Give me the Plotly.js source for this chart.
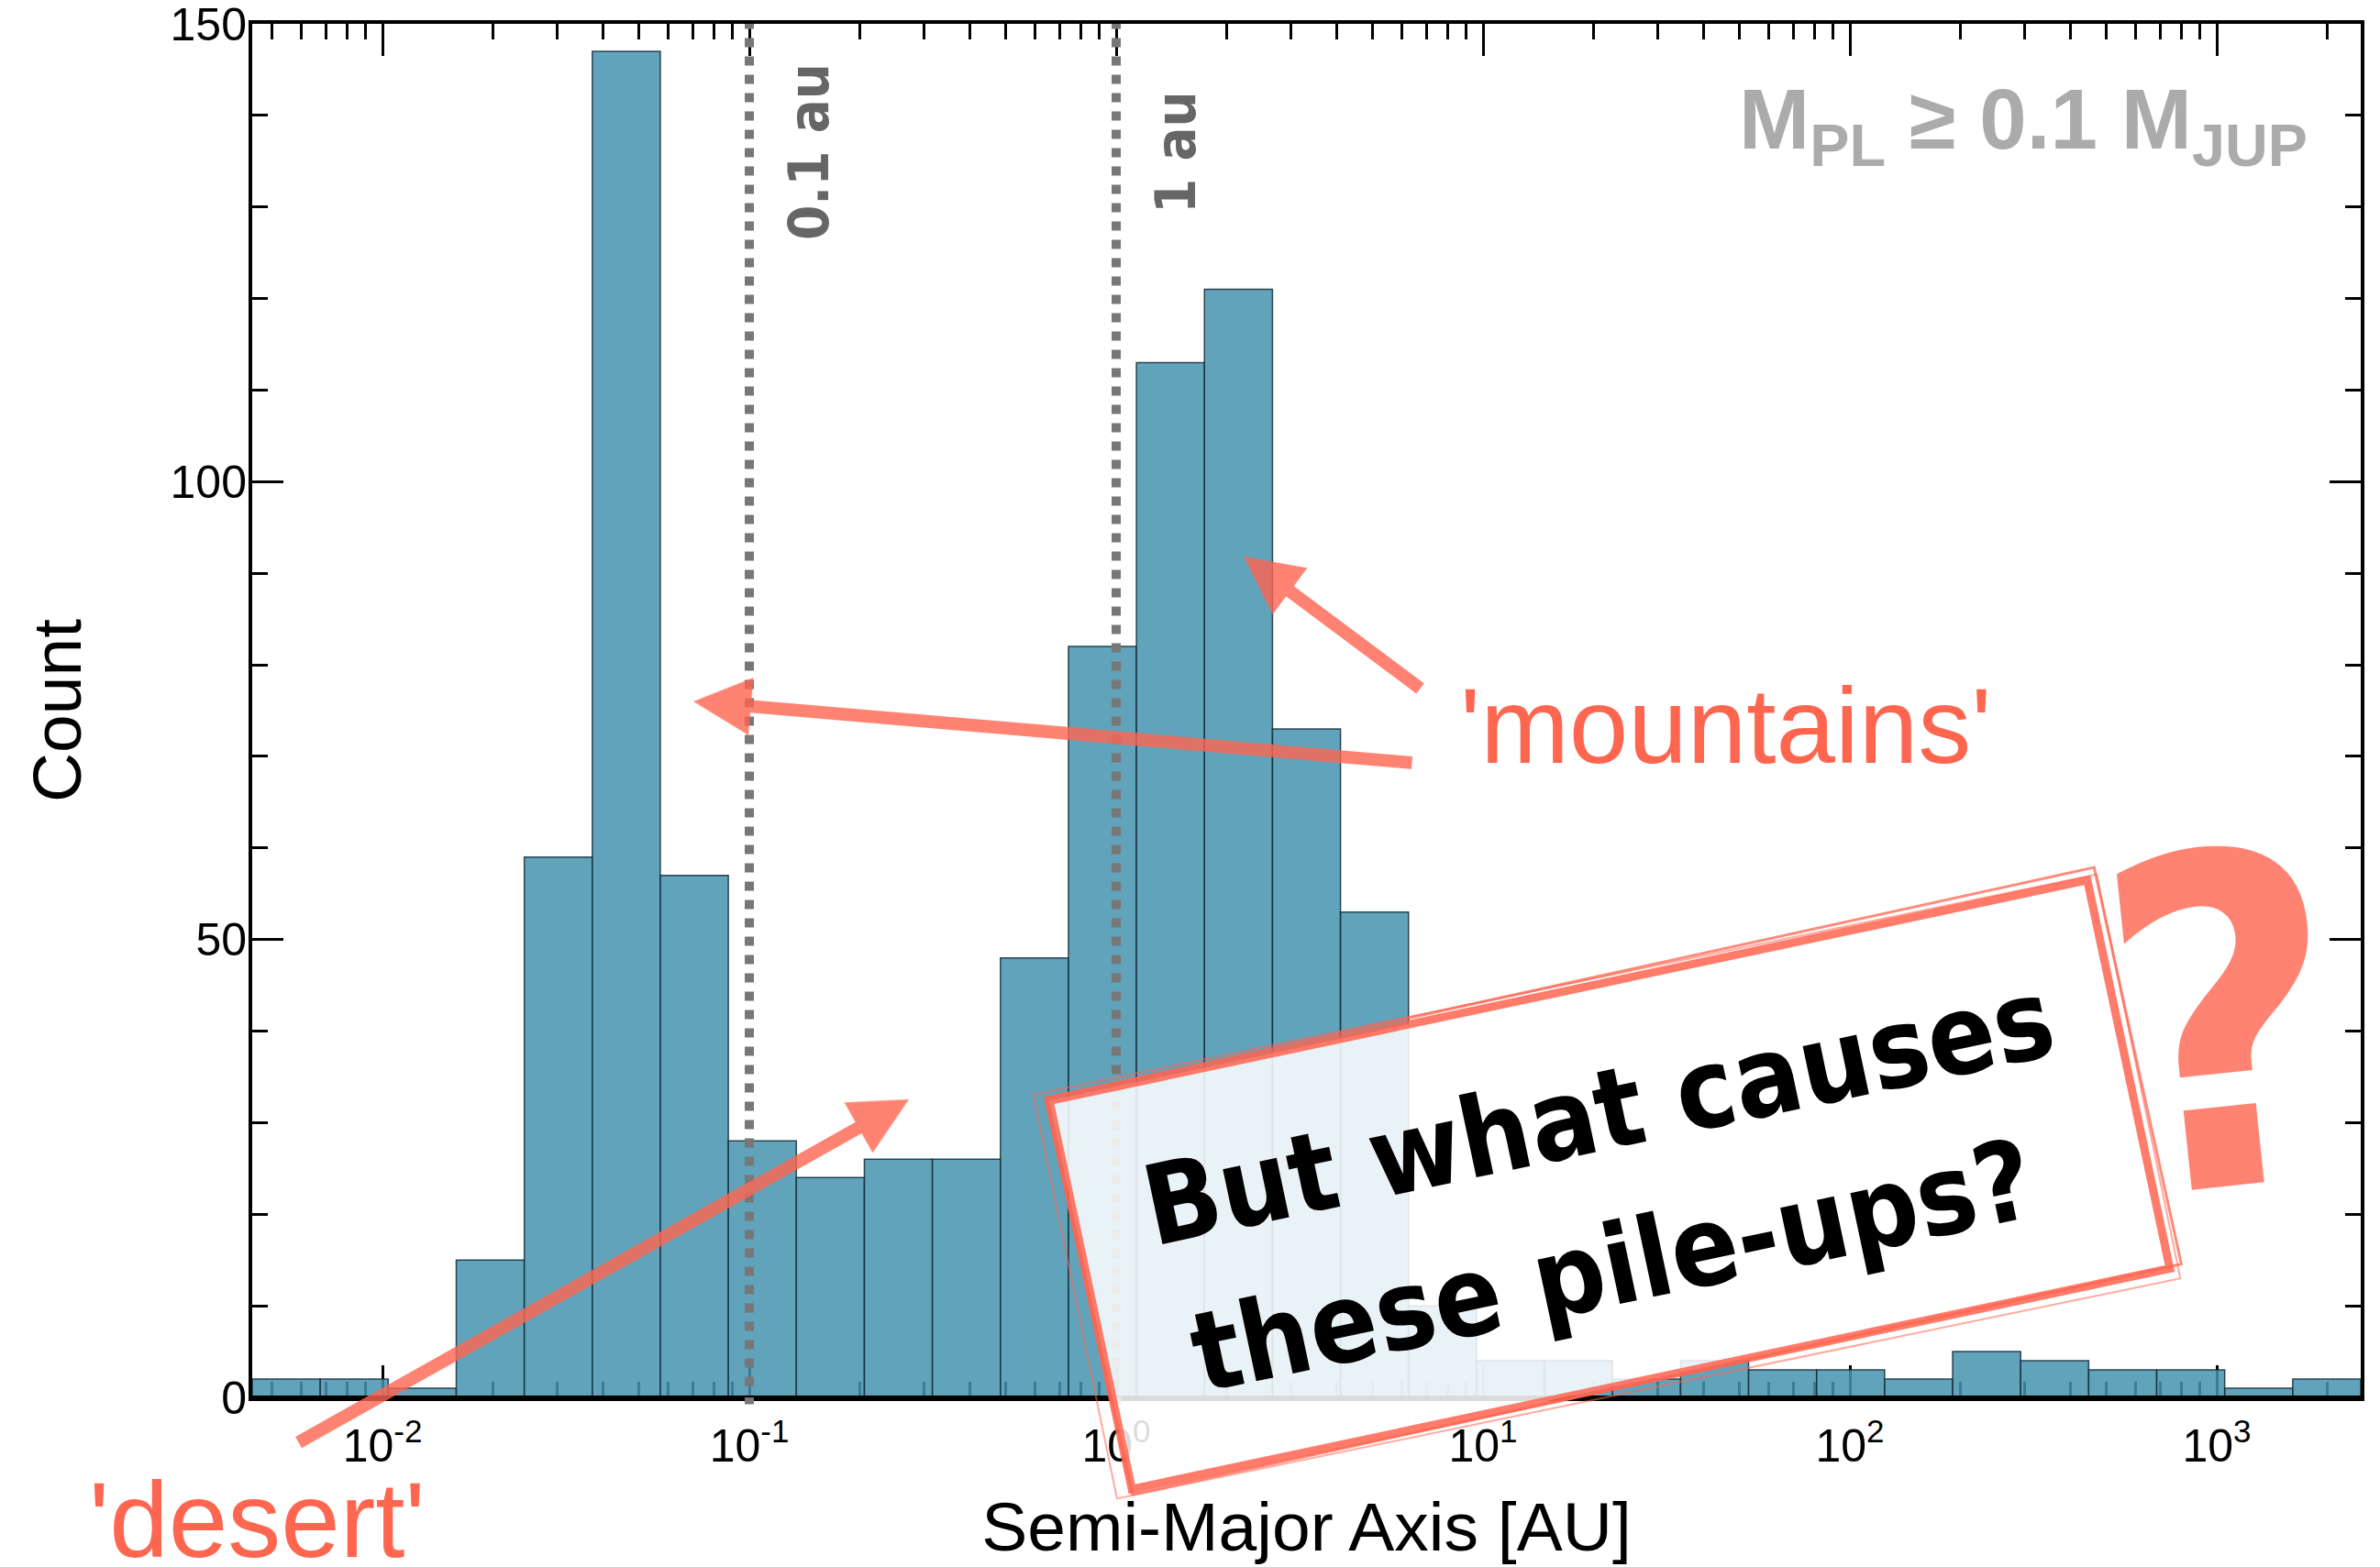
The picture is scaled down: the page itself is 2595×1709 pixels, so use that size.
<!DOCTYPE html>
<html><head><meta charset="utf-8">
<script src="https://cdn.plot.ly/plotly-3.0.1.min.js"></script>
<style>html,body{margin:0;padding:0;background:#fff;}#chart{width:2595px;height:1709px;}</style>
</head><body><div id="chart"></div>
<script>
// ---- data (log10 of semi-major axis in AU for bin edges; counts per bin) ----
const binEdgesLog10 = [-2.355,-2.1696,-1.9842,-1.7988,-1.6134,-1.428,-1.2426,-1.0572,-0.8718,-0.6864,
  -0.501,-0.3156,-0.1302,0.0552,0.2406,0.426,0.6114,0.7968,0.9822,1.1676,1.353,1.5384,1.7238,1.9092,
  2.0946,2.28,2.4654,2.6508,2.8362,3.0216,3.207,3.3924];
const counts = [2,2,1,15,59,147,57,28,24,26,26,48,82,113,121,73,53,10,4,4,2,4,3,3,2,5,4,3,3,1,2];
const majorTickExponents = [-2,-1,0,1,2,3];
const majorTickLabels = ['10<sup>-2</sup>','10<sup>-1</sup>','10<sup>0</sup>','10<sup>1</sup>','10<sup>2</sup>','10<sup>3</sup>'];
const minorMultipliers = [2,3,4,5,6,7,8,9];
const yTickValues = [0,50,100,150];
const refLinesAU = [0.1, 1];
const refLineLabels = ['0.1 au', '1 au'];
const boxLines = ['But what causes', 'these pile-ups?'];

// ---- derived ----
const centers = counts.map((_, i) => (binEdgesLog10[i] + binEdgesLog10[i+1]) / 2);
const widths = counts.map((_, i) => binEdgesLog10[i+1] - binEdgesLog10[i]);
const xRange = [binEdgesLog10[0], binEdgesLog10[binEdgesLog10.length-1]];
const minorVals = [];
for (let n = -3; n <= 3; n++) minorMultipliers.forEach(m => {
  const v = n + Math.log10(m);
  if (v > xRange[0] && v < xRange[1]) minorVals.push(v);
});

// ---- font helpers ----
const ctx = document.createElement('canvas').getContext('2d');
function hasFont(name) {
  const s = 'mmmmmmmmmmlli0O?WwAa';
  for (const g of ['monospace', 'serif']) {
    ctx.font = '72px ' + g; const a = ctx.measureText(s).width;
    ctx.font = '72px "' + name + '", ' + g; const b = ctx.measureText(s).width;
    if (a !== b) return true;
  }
  return false;
}
function pick(list) { for (const f of list) if (hasFont(f)) return f; return 'Liberation Sans'; }
function textW(str, fam, weight, size) { ctx.font = weight + ' ' + size + 'px "' + fam + '"'; return ctx.measureText(str).width; }

const SANS = 'Liberation Sans, Arial, Helvetica, sans-serif';
const COND = pick(['Noto Sans Condensed', 'Liberation Sans Narrow', 'DejaVu Sans Condensed', 'Liberation Sans']);
const XCOND = pick(['Noto Sans ExtraCondensed', 'Noto Sans Condensed', 'Liberation Sans Narrow', 'Liberation Sans']);

// ---- geometry ----
const W = 2595, H = 1709, L = 275, R = 2574, T = 26, B = 1524;
const px = x => (x - L) / (R - L);
const py = y => (B - y) / (B - T);
const CORAL = '#FF6650';
const CORAL_A = 'rgba(255,100,80,0.8)';

const trace = {
  type: 'bar', x: centers, y: counts, width: widths,
  marker: {color: 'rgba(69,147,175,0.85)', line: {color: 'rgba(20,45,58,0.85)', width: 1.5}},
  hoverinfo: 'skip'
};

const axisCommon = {
  showline: true, linewidth: 4, linecolor: '#000', mirror: 'ticks',
  ticks: 'inside', tickwidth: 3, tickcolor: '#000', showgrid: false, zeroline: false,
  layer: 'below traces', ticklabeloverflow: 'allow'
};

const shapes = refLinesAU.map(v => ({
  type: 'line', xref: 'x', yref: 'paper', x0: Math.log10(v), x1: Math.log10(v), y0: -0.005, y1: 1,
  line: {color: '#777777', width: 10, dash: 'dot'}, layer: 'above'
}));
shapes.push({type: 'line', xref: 'paper', yref: 'y', x0: 0, x1: 1, y0: 0, y1: 0,
  line: {color: '#000', width: 4}, layer: 'above'});

const annotations = [];
// reference line labels (fit "0.1 au" to ~193px long)
const refSize = Math.min(84, 193 / textW(refLineLabels[0], COND, 'bold', 100) * 100);
refLinesAU.forEach((v, i) => annotations.push({
  xref: 'x', yref: 'paper', x: Math.log10(v), xshift: 64, y: py(166),
  text: refLineLabels[i], showarrow: false, textangle: -90,
  xanchor: 'center', yanchor: 'middle',
  font: {family: COND, size: refSize, color: '#666666', weight: 'bold'}
}));
// mass label, fit to ~620px wide, right-aligned
const massW100 = textW('M \u2265 0.1 M', XCOND, 'bold', 100) + textW('PLJUP', XCOND, 'bold', 70);
const massSize = Math.min(132, 620 / massW100 * 100);
annotations.push({
  xref: 'paper', yref: 'paper', x: px(2518), y: py(161 - 0.26 * massSize), xanchor: 'right', yanchor: 'middle',
  text: 'M<sub>PL</sub> \u2265 0.1 M<sub>JUP</sub>', showarrow: false,
  font: {family: XCOND, size: massSize, color: '#ABABAB', weight: 'bold'}
});
// arrows
const arrows = [
  {tip: [756, 765], tail: [1541, 832]},
  {tip: [1356, 607], tail: [1550, 752]},
  {tip: [991, 1199], tail: [324, 1574]}
];
arrows.forEach(a => annotations.push({
  xref: 'paper', yref: 'paper', x: px(a.tip[0]), y: py(a.tip[1]),
  ax: a.tail[0] - a.tip[0], ay: a.tail[1] - a.tip[1], axref: 'pixel', ayref: 'pixel',
  text: '', showarrow: true, arrowhead: 2, arrowsize: 0.9, arrowwidth: 14,
  arrowcolor: CORAL_A, standoff: 0, startstandoff: 0
}));
// words
annotations.push({
  xref: 'paper', yref: 'paper', x: px(1882), y: py(792), xanchor: 'center', yanchor: 'middle',
  text: "'mountains'", showarrow: false, font: {family: SANS, size: 116, color: CORAL}
});
annotations.push({
  xref: 'paper', yref: 'paper', x: px(280), y: py(1658), xanchor: 'center', yanchor: 'middle',
  text: "'desert'", showarrow: false, font: {family: SANS, size: 116, color: CORAL}
});
// sketchy box
const boxC = [1755, 1292];
const ang = 12 * Math.PI / 180;
annotations.push({
  xref: 'paper', yref: 'paper', x: px(boxC[0]), y: py(boxC[1]), xanchor: 'center', yanchor: 'middle',
  text: ' ', showarrow: false, textangle: -12, width: 1148, height: 424, borderpad: 0,
  bgcolor: 'rgba(255,255,255,0.86)', bordercolor: 'rgba(255,100,80,0.85)', borderwidth: 9
});
annotations.push({
  xref: 'paper', yref: 'paper', x: px(boxC[0] + 4), y: py(boxC[1] - 4), xanchor: 'center', yanchor: 'middle',
  text: ' ', showarrow: false, textangle: -12.4, width: 1168, height: 440, borderpad: 0,
  bgcolor: 'rgba(0,0,0,0)', bordercolor: 'rgba(255,100,80,0.75)', borderwidth: 3
});
annotations.push({
  xref: 'paper', yref: 'paper', x: px(boxC[0] - 3), y: py(boxC[1] + 2), xanchor: 'center', yanchor: 'middle',
  text: ' ', showarrow: false, textangle: -11.7, width: 1182, height: 448, borderpad: 0,
  bgcolor: 'rgba(0,0,0,0)', bordercolor: 'rgba(255,100,80,0.55)', borderwidth: 2
});
// box text lines, fit first line to ~1010px
const boxSize = Math.min(150, 1010 / textW(boxLines[0], COND, 'bold', 100) * 100);
const baselines = [[1752, 1257], [1767, 1425]];
boxLines.forEach((t, i) => {
  const off = 0.37 * boxSize;
  const cx = baselines[i][0] - off * Math.sin(ang), cy = baselines[i][1] - off * Math.cos(ang);
  annotations.push({
    xref: 'paper', yref: 'paper', x: px(cx), y: py(cy), xanchor: 'center', yanchor: 'middle',
    text: t, showarrow: false, textangle: -12,
    font: {family: COND, size: boxSize, color: '#000', weight: 'bold'}
  });
});
// big question mark
annotations.push({
  xref: 'paper', yref: 'paper', x: px(2425), y: py(1120), xanchor: 'center', yanchor: 'middle',
  text: '?', showarrow: false, textangle: -6,
  font: {family: COND, size: 500, color: CORAL_A, weight: 'bold'}
});

const layout = {
  width: W, height: H, margin: {l: L, r: W - R, t: T, b: H - B, pad: 0},
  paper_bgcolor: '#fff', plot_bgcolor: '#fff', showlegend: false, bargap: 0,
  xaxis: Object.assign({}, axisCommon, {
    type: 'linear', range: xRange, tickmode: 'array', tickvals: majorTickExponents, ticktext: majorTickLabels,
    ticklen: 35, ticklabelstandoff: 6,
    tickfont: {family: SANS, size: 50, color: '#000'},
    minor: {tickmode: 'array', tickvals: minorVals, ticks: 'inside', ticklen: 17, tickwidth: 3, tickcolor: '#000', showgrid: false},
    title: {text: 'Semi-Major Axis [AU]', font: {family: SANS, size: 75, color: '#000'}, standoff: 35}
  }),
  yaxis: Object.assign({}, axisCommon, {
    range: [0, 150], tickmode: 'array', tickvals: yTickValues, ticklen: 34, ticklabelstandoff: -8,
    tickfont: {family: SANS, size: 50, color: '#000'},
    minor: {dtick: 10, ticks: 'inside', ticklen: 17, tickwidth: 3, tickcolor: '#000', showgrid: false},
    title: {text: 'Count', font: {family: SANS, size: 75, color: '#000'}, standoff: 73}
  }),
  shapes: shapes, annotations: annotations
};

Plotly.newPlot('chart', [trace], layout, {staticPlot: true, displayModeBar: false});
</script></body></html>
